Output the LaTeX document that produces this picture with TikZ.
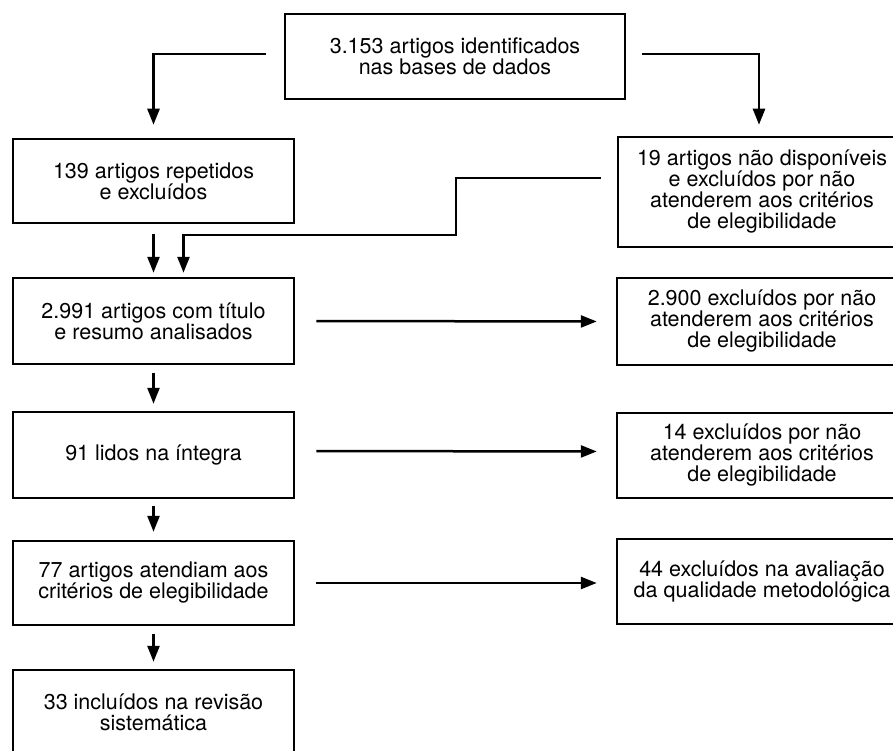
\documentclass[tikz,border=0pt]{standalone}
\usepackage{fontspec}
\setmainfont{TeX Gyre Heros}
\usetikzlibrary{arrows.meta}
\tikzstyle{arrow}=[-{Triangle[width=12pt,length=16pt]}]
\tikzstyle{caixa}=[rectangle, draw, align=center, inner sep=0pt, font=\fontsize{21.5}{21}\selectfont]
\tikzset{every picture/.style={
    line width=2.5pt
  }
}

\begin{document}
\begin{tikzpicture}[x=1pt,y=-1pt]
      \clip (0,0) rectangle (893,751);
      \node[caixa, minimum width=340pt, minimum height=85pt] at (455,56.5) (bases) {3.153 artigos identificados\\nas bases de dados};
      \node[caixa, minimum width=281pt, minimum height=84pt] at (153.5,181) (repetidos) {139 artigos repetidos\\e excluídos};
      \node[caixa, minimum width=288pt, minimum height=110pt] at (762,192) (indisp) {19 artigos não disponíveis\\e excluídos por não\\atenderem aos critérios\\de elegibilidade};
      \node[caixa, minimum width=281pt, minimum height=86pt] at (153.5,321) (titulo) {2.991 artigos com título\\e resumo analisados};
      \node[caixa, minimum width=290pt, minimum height=87pt] at (762,321.5) (exctitulo) {2.900 excluídos por não\\atenderem aos critérios\\de elegibilidade};
      \node[caixa, minimum width=281pt, minimum height=86pt] at (153.5,455) (integra) {91 lidos na íntegra};
      \node[caixa, minimum width=290pt, minimum height=85pt] at (762,455.5) (excintegra) {14 excluídos por não\\atenderem aos critérios\\de elegibilidade};
      \node[caixa, minimum width=281pt, minimum height=84pt] at (153.5,583) (elegiveis) {77 artigos atendiam aos\\critérios de elegibilidade};
      \node[caixa, minimum width=290pt, minimum height=85pt] at (762,581.5) (excqualidade) {44 excluídos na avaliação\\da qualidade metodológica};
      \node[caixa, minimum width=281pt, minimum height=84pt] at (153.5,712) (incluidos) {33 incluídos na revisão\\sistemática};
      \coordinate (desvio) at (456,235);
      \draw[arrow, shorten <=18pt, shorten >=13pt] ([yshift=2.5pt]bases.west) -| (repetidos.north);
      \draw[arrow, shorten <=16pt, shorten >=11pt] ([yshift=2.5pt]bases.east) -| ([xshift=-3pt]indisp.north);
      \draw[arrow, shorten <=10pt, shorten >=4pt] (repetidos.south) -- (titulo.north);
      \draw[arrow, shorten >=4pt] ([shift={(-16pt,14pt)}]indisp.west) -| (desvio) -| ([xshift=30pt]titulo.north);
      \draw[arrow, shorten <=8pt, shorten >=7pt] (titulo.south) -- (integra.north);
      \draw[arrow, shorten <=7pt, shorten >=8pt] (integra.south) -- (elegiveis.north);
      \draw[arrow, shorten <=8pt, shorten >=7pt] (elegiveis.south) -- (incluidos.north);
      \draw[arrow, shorten <=21pt, shorten >=19pt] (titulo.east) -- (exctitulo.west);
      \draw[arrow, shorten <=21pt, shorten >=19pt] ([yshift=4pt]integra.east) -- ([yshift=4pt]excintegra.west);
      \draw[arrow, shorten <=21pt, shorten >=19pt] (elegiveis.east) -- ([yshift=-1.5pt]excqualidade.west);
    \end{tikzpicture}
\end{document}
